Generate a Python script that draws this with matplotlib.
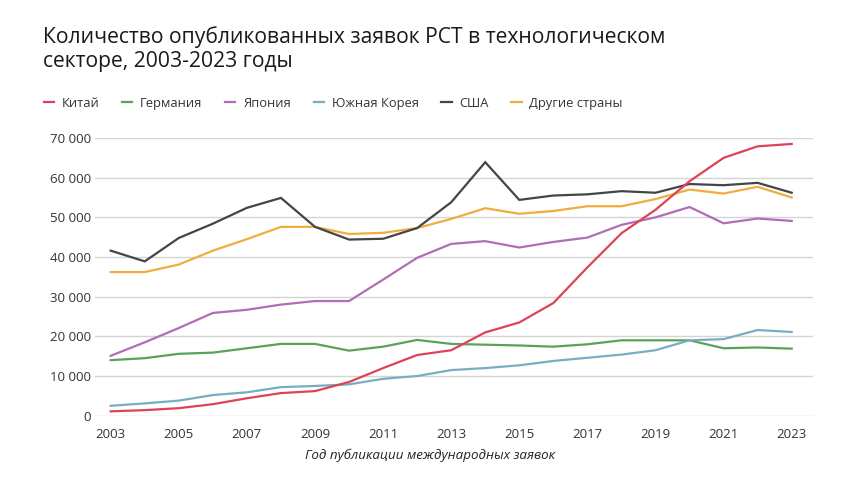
import numpy as np
import matplotlib
matplotlib.use('Agg')
import matplotlib.pyplot as plt

plt.rcParams['font.family'] = ['Open Sans', 'DejaVu Sans']

years = list(range(2003, 2024))

china = [1100, 1400, 1900, 2900, 4400, 5700, 6200, 8500, 12000, 15300, 16500,
         21000, 23500, 28400, 37400, 46000, 51900, 59100, 65000, 67900, 68500]
germany = [14000, 14500, 15600, 15900, 17000, 18100, 18100, 16400, 17400, 19100, 18100,
           17900, 17700, 17400, 18000, 19000, 19000, 19000, 17000, 17200, 16900]
japan = [15100, 18500, 22100, 25900, 26700, 28000, 28900, 28900, 34300, 39800, 43300,
         44000, 42400, 43800, 44900, 48100, 50000, 52600, 48500, 49700, 49100]
korea = [2500, 3100, 3800, 5200, 5900, 7200, 7500, 7900, 9300, 10000, 11500,
         12000, 12700, 13800, 14600, 15400, 16500, 19000, 19300, 21600, 21100]
usa = [41600, 38900, 44800, 48400, 52400, 54900, 47600, 44400, 44600, 47300, 53800,
       63900, 54400, 55500, 55800, 56600, 56200, 58400, 58100, 58700, 56200]
other = [36200, 36200, 38100, 41600, 44500, 47600, 47600, 45800, 46100, 47300, 49600,
         52300, 50900, 51600, 52800, 52800, 54600, 57000, 56000, 57700, 55000]

names = ['Китай', 'Германия', 'Япония', 'Южная Корея', 'США', 'Другие страны']
colors = ['#DF4258', '#5AA25A', '#B16DB5', '#78AEC1', '#454545', '#F2AC3D']
series = [china, germany, japan, korea, usa, other]

yticks = [0, 10000, 20000, 30000, 40000, 50000, 60000, 70000]
xticks = list(range(2003, 2024, 2))

fig = plt.figure(figsize=(8.6, 4.84), dpi=100)
ax = fig.add_axes([95/860, (484-415.7)/484, (813-95)/860, (415.7-138)/484])

# draw order: background lines first so red sits on top like the original
order = [5, 4, 2, 1, 3, 0]
handles = {}
for i in order:
    ln, = ax.plot(years, series[i], color=colors[i], lw=1.6, clip_on=False,
                  solid_joinstyle='miter', label=names[i])
    handles[i] = ln

ax.set_xlim(2003 - 15.7/34.05, 2023 + 21.3/34.05)
ax.set_ylim(0, 70000)
ax.set_yticks(yticks)
ax.set_yticklabels([f'{v:,}'.replace(',', ' ') for v in yticks])
ax.set_xticks(xticks)
ax.grid(axis='y', color='#d4d4d4', lw=1)
ax.set_axisbelow(True)
for s in ax.spines.values():
    s.set_visible(False)
ax.tick_params(length=0, labelsize=9.5, colors='#333333')
ax.tick_params(axis='y', pad=3)
ax.tick_params(axis='x', pad=9)

fig.text(43/860, 1 - 26/484, 'Количество опубликованных заявок PCT в технологическом\nсекторе, 2003-2023 годы',
         ha='left', va='top', fontsize=15.2, color='#1a1a1a', linespacing=1.18)

fig.legend([handles[i] for i in range(6)], names, loc='upper left',
           bbox_to_anchor=(32/860, 1 - 85/484), ncol=6, frameon=False,
           fontsize=9.3, handlelength=0.8, handletextpad=0.6, columnspacing=1.75,
           labelcolor='#333333')

fig.text(430/860, 1 - 455/484, 'Год публикации международных заявок', ha='center', va='center',
         fontsize=9.6, style='italic', color='#222222')

fig.savefig('out.png', dpi=100, facecolor='white')
